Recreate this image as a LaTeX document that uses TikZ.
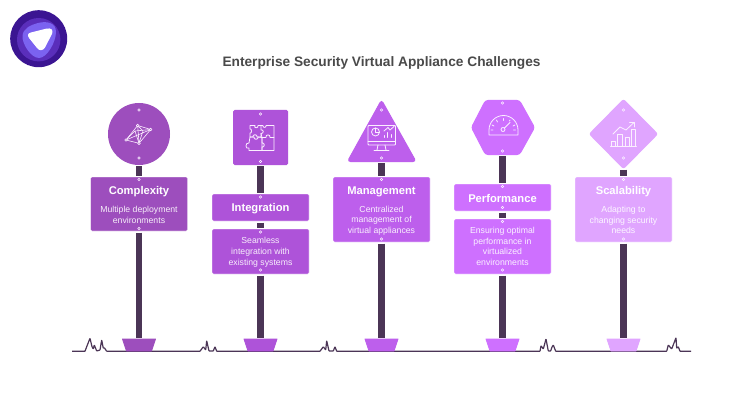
\documentclass[tikz,border=0pt]{standalone}
\usepackage{fontspec}
\setmainfont{Liberation Sans}
\definecolor{cA}{HTML}{9D4EBD}
\definecolor{cB}{HTML}{AE53D9}
\definecolor{cC}{HTML}{BD5FEC}
\definecolor{cD}{HTML}{CE70FF}
\definecolor{cE}{HTML}{E0A5FF}
\definecolor{poleC}{HTML}{4B3556}
\definecolor{titleC}{HTML}{4A4A4A}
\definecolor{lineC}{HTML}{FBEFFF}
\definecolor{logoA}{HTML}{3B1592}
\definecolor{logoB}{HTML}{5A2EBB}
\definecolor{logoC}{HTML}{7B62F0}
\tikzset{
  x=1pt,y=-1pt,
  signbox/.style={rectangle,rounded corners=1.5pt,minimum width=97pt,inner sep=0pt,draw=white,draw opacity=.45,line width=.7pt},
  pole/.style={draw=poleC,line width=6.4pt,shorten <=1.2pt,shorten >=.6pt},
  head/.style={font=\bfseries\fontsize{11.2}{13}\selectfont,text=white,inner sep=0pt},
  desc/.style={font=\fontsize{8.7}{10.6}\selectfont,text=white,text opacity=.9,align=center,inner sep=0pt},
  ico/.style={draw=lineC,line width=.8pt,line join=round,line cap=round,fill=none},
  ground/.style={draw=poleC,line width=1.2pt,line join=round,rounded corners=.5pt},
  stud/.style={circle,draw=lineC,line width=.55pt,minimum size=2.6pt,inner sep=0pt},
  basepad/.style={line join=round,line width=.8pt},
}
\newcommand{\studs}[2]{\foreach \p in {#2}{\node[stud,fill=#1] at \p {};}}
\newcommand{\padbase}[3]{% x, colour, coordinate name
  \draw[basepad,draw=#2,fill=#2] (#1-16.5,339) -- (#1+16.5,339) -- (#1+12.5,351) -- (#1-12.5,351) -- cycle;
  \coordinate (#3) at (#1,338.5);}
\begin{document}
\begin{tikzpicture}
\useasboundingbox (0,0) rectangle (740,420);
\fill[white] (0,0) rectangle (740,420);

% logo
\fill[logoA] (38.7,38.7) circle (28.5);
\fill[logoB] (38.7,39.7) circle (21.7);
\fill[logoC] (38,23) .. controls (46,21) and (56,22) .. (56,32) .. controls (56,42) and (47,58) .. (39,58) .. controls (31,58) and (22,44) .. (22.5,36) .. controls (23,28) and (31,25) .. (38,23) -- cycle;
\fill[white] (31,32.5) -- (46,28.7) .. controls (51.5,27.5) and (53.5,30) .. (52,34) -- (45,47.5) .. controls (43,51) and (39,51) .. (37,48) -- (29,38) .. controls (27,35) and (28,33.3) .. (31,32.5) -- cycle;

\node[font=\bfseries\fontsize{13.7}{16}\selectfont,text=titleC,inner sep=0pt] (title) at (381.5,63.3) {Enterprise Security Virtual Appliance Challenges};

% ground with its tufts of grass
\coordinate (gl) at (72,351.3);
\coordinate (gr) at (691,351.3);
\draw[ground] (gl) -- (85,351.3) -- (86.7,346.7) -- (90,338.3) -- (92,346.7) -- (93.3,349) -- (94.3,345) -- (96.7,351) -- (100,350) -- (101.7,340) -- (103.3,348.3) -- (104.3,347.7) -- (106.7,351.3)
 -- (200,351.3) -- (203.3,346.7) -- (205.7,350) -- (206.7,340.7) -- (209,351) -- (213.3,351) -- (215,346.7) -- (216.7,351.3)
 -- (320,351.3) -- (323.3,346.7) -- (325.7,350) -- (326.7,340.7) -- (329,351) -- (333.3,351) -- (335,346.7) -- (336.7,351.3)
 -- (540,351.3) -- (541,345.7) -- (543.3,349) -- (546,339) -- (548.3,351) -- (550.7,351) -- (552,347) -- (553.3,345) -- (555.7,351.3)
 -- (666.7,351.3) -- (668.3,345) -- (671.7,349) -- (676,337.7) -- (676.7,348.3) -- (678.3,346.7) -- (680,351.3) -- (gr);

% bases
\padbase{139}{cA}{baseA}
\padbase{260.5}{cB}{baseB}
\padbase{381.5}{cC}{baseC}
\padbase{502.5}{cD}{baseD}
\padbase{623.5}{cE}{baseE}

%% Complexity
\node[circle,fill=cA,minimum size=62pt,inner sep=0pt] (iconA) at (139,134) {};
\node[signbox,fill=cA,minimum height=54pt] (boxA) at (139,204) {};
\node[head] (headA) at (139,191.5) {Complexity};
\node[desc] (descA) at (139,215) {Multiple deployment\\environments};
\draw[pole] (iconA.south) -- (boxA.north);
\draw[pole] (boxA.south) -- (baseA);
\studs{cA}{(139,110),(139,158),(139,179.5),(139,228.5)}
\begin{scope}[ico,line width=.6pt]
\draw (137.7,125.5) -- (150.7,129.5) -- (139,143.3) -- (126,140) -- cycle;
\draw (137.7,125.5) -- (139,143.3) (126,140) -- (150.7,129.5) (137.7,125.5) -- (143,131) -- (139,143.3);
\draw (126,140) -- (135,131) -- (150.7,129.5) (135,131) -- (139,143.3);
\foreach \p in {(137.7,125.5),(150.7,129.5),(139,143.3),(126,140)} \draw[fill=cA] \p circle (1.3);
\end{scope}

%% Integration
\node[rectangle,rounded corners=1.5pt,fill=cB,minimum width=55pt,minimum height=55pt,inner sep=0pt] (iconB) at (260.5,137.5) {};
\node[signbox,fill=cB,minimum height=27pt] (boxB) at (260.5,207.5) {};
\node[signbox,fill=cB,minimum height=45pt] (boxBb) at (260.5,251.5) {};
\node[head] (headB) at (260.5,208.5) {Integration};
\node[desc] (descB) at (260.5,252.3) {Seamless\\integration with\\existing systems};
\draw[pole] (iconB.south) -- (boxB.north);
\draw[pole] (boxB.south) -- (boxBb.north);
\draw[pole] (boxBb.south) -- (baseB);
\studs{cB}{(260.5,114),(260.5,161.5),(260.5,197),(260.5,232),(260.5,270)}
\begin{scope}[ico]
\draw (250,125.5) -- (255,125.5) .. controls (253,128.5) and (259,128.5) .. (258,125.5) -- (261,125.5) -- (261,130) .. controls (264,129) and (264,134) .. (261,133.5) -- (261,137) -- (257,137) .. controls (258,134) and (252,134) .. (253,137) -- (250,137) -- (250,133) .. controls (252,134) and (252,128) .. (250,129) -- cycle;
\draw (261,125.5) -- (263,125.5) .. controls (262,128) and (267,128) .. (266,125.5) -- (274,125.5) -- (274,137.5) -- (270,137.5) .. controls (271,134) and (265,134) .. (266,137.5) -- (262,137.5) -- (261,133.5);
\draw (274,137.5) -- (274,150.5) -- (262,150.5) -- (262,147) .. controls (265,148) and (265,142) .. (262,143) -- (262,137.5);
\draw (250,137) -- (254,137) .. controls (253,140) and (259,140) .. (258,137) -- (262,137.5) -- (262,150.5) -- (249,150.5) -- (249,148) .. controls (245,150) and (245,142) .. (249,143) -- (250,137);
\end{scope}

%% Management
\coordinate (iconC) at (381.5,162);
\draw[fill=cC,draw=cC,line width=1pt,rounded corners=3pt] (381.5,100) -- (416,161.5) -- (347.5,161.5) -- cycle;
\node[signbox,fill=cC,minimum height=65pt] (boxC) at (381.5,209.5) {};
\node[head] (headC) at (381.5,191.5) {Management};
\node[desc] (descC) at (381.5,220.5) {Centralized\\management of\\virtual appliances};
\draw[pole] (iconC) -- (boxC.north);
\draw[pole] (boxC.south) -- (baseC);
\studs{cC}{(381.5,110),(381.5,158),(381.5,179.5),(381.5,239)}
\begin{scope}[ico]
\draw[rounded corners=.8pt] (368,125.5) rectangle (395.5,145);
\draw (368,141) -- (395.5,141);
\draw (378,145) -- (377,150) (385,145) -- (386,150) (374,150.5) -- (389,150.5);
\draw (375.5,132) circle (4);
\draw (375.5,132) -- (375.5,128) (375.5,132) -- (379.5,132);
\draw (384,131) -- (388,127.5) -- (390,130) -- (394,126.5);
\draw (384,137.5) -- (384,135.5) (387.5,137.5) -- (387.5,132.5) (391,137.5) -- (391,134.5);
\end{scope}

%% Performance
\coordinate (iconD) at (502.5,155);
\draw[fill=cD,draw=cD,line width=1pt,rounded corners=2.5pt] (485.5,100.5) -- (519.5,100.5) -- (534.5,127.5) -- (519.5,154.5) -- (485.5,154.5) -- (471.5,127.5) -- cycle;
\node[signbox,fill=cD,minimum height=27pt] (boxD) at (502.5,197.5) {};
\node[signbox,fill=cD,minimum height=55pt] (boxDb) at (502.5,246.5) {};
\node[head] (headD) at (502.5,198) {Performance};
\node[desc] (descD) at (502.5,246.5) {Ensuring optimal\\performance in\\virtualized\\environments};
\draw[pole] (iconD) -- (boxD.north);
\draw[pole] (boxD.south) -- (boxDb.north);
\draw[pole] (boxDb.south) -- (baseD);
\studs{cD}{(502.5,103),(502.5,151),(502.5,186.5),(502.5,207.5),(502.5,221.5),(502.5,270)}
\begin{scope}[ico]
\draw (489,135) -- (489,130) arc[start angle=180,end angle=0,radius=14.5pt] -- (518,135) -- cycle;
\draw (503,129.5) circle (2);
\draw (504.5,128) -- (510,122.5);
\draw (503.5,118.5) -- (503.5,120.5) (496.5,120) -- (497.5,122) (510,120) -- (509.5,121) (492,125) -- (494,126) (515,125) -- (513,126) (491,130) -- (493,130) (515.5,130) -- (513.5,130);
\end{scope}

%% Scalability
\coordinate (iconE) at (623.5,168.5);
\draw[fill=cE,draw=cE,line width=1pt,rounded corners=2pt] (623.5,99.5) -- (657.5,134) -- (623.5,168.5) -- (589.5,134) -- cycle;
\node[signbox,fill=cE,minimum height=65pt] (boxE) at (623.5,209.5) {};
\node[head] (headE) at (623.5,191.5) {Scalability};
\node[desc] (descE) at (623.5,220) {Adapting to\\changing security\\needs};
\draw[pole] (iconE) -- (boxE.north);
\draw[pole] (boxE.south) -- (baseE);
\studs{cE}{(623.5,110),(623.5,158),(623.5,179.5),(623.5,239)}
\begin{scope}[ico]
\draw (610.5,146) -- (636.5,146);
\draw (611.5,146) rectangle (615.5,141) (617.5,146) rectangle (622,134) (625,146) rectangle (629,137) (631.5,146) rectangle (635.5,129);
\draw (613,134) -- (620,127) -- (626,130) -- (634,122.5);
\draw (629.5,122) -- (634.5,122) -- (634.5,127);
\end{scope}
\end{tikzpicture}
\end{document}
